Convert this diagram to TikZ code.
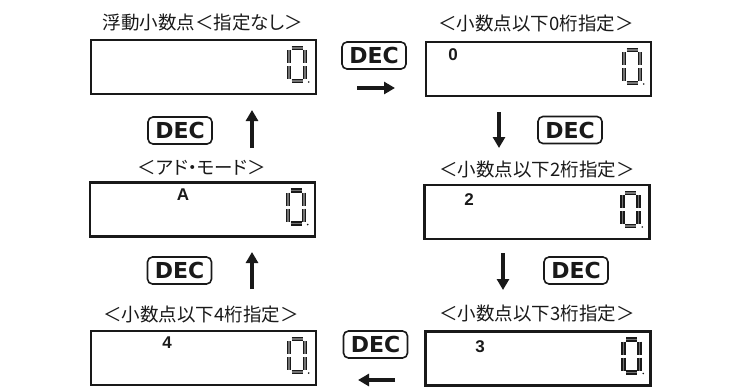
\documentclass[tikz,border=0pt]{standalone}
\usepackage{fontspec}
\setmainfont{Liberation Sans}
\newfontfamily\jpfont[RawFeature=+palt]{Noto Sans CJK JP}
\newfontfamily\keyfont{DejaVu Sans}
\usetikzlibrary{arrows.meta}

\begin{document}
\begin{tikzpicture}[x=1pt,y=-1pt,
  lcd/.style={draw=black!90, line width=2.3pt, minimum width=225pt, minimum height=54pt},
  deckey/.style={draw=black!90, line width=1.6pt, rounded corners=5pt, minimum width=64pt, minimum height=27pt, font=\keyfont\fontsize{22}{22}\selectfont\bfseries, text=black!90},
  modetitle/.style={font=\jpfont\fontsize{18.5}{18.5}\selectfont, text=black!90},
  dispflag/.style={font=\fontsize{17}{17}\selectfont\bfseries, text=black!90},
  flow/.style={draw=black!90, line width=4.6pt, -{Triangle[length=11pt,width=12pt]}},
  seg/.style={draw=black!90, line width=1.4pt, double=black!55, double distance=1.6pt},
  segzero/.pic={
    \draw [seg] (-5.5,-16.5) -- (5.5,-16.5);
    \draw [seg] (-5.5,16.5) -- (5.5,16.5);
    \draw [seg] (-8,-14.5) -- (-8,-1.5);
    \draw [seg] (-8,1.5) -- (-8,14.5);
    \draw [seg] (8,-14.5) -- (8,-1.5);
    \draw [seg] (8,1.5) -- (8,14.5);
    \fill [black!90] (11.5,17.5) circle (0.9);
  }]
\tikzstyle{every node}+=[inner sep=0pt]
\useasboundingbox (0,0) rectangle (754,389);
\node [lcd] (b0) at (203.5,67) {};
\node [lcd] (b1) at (538.5,69) {};
\node [lcd] (b2) at (537,212) {};
\node [lcd] (b3) at (538,358.5) {};
\node [lcd] (b4) at (203.5,358) {};
\node [lcd] (bA) at (202.5,209.5) {};
\foreach \bx in {b0,b1,b2,b3,b4,bA}
  \pic at ([xshift=-20pt,yshift=2.5pt]\bx.east) {segzero};
\node [modetitle] (t0) at (203,23) {浮動小数点＜指定なし＞};
\node [modetitle] (t1) at (536,24) {＜小数点以下0桁指定＞};
\node [modetitle] (t2) at (537,170) {＜小数点以下2桁指定＞};
\node [modetitle] (t3) at (537,313) {＜小数点以下3桁指定＞};
\node [modetitle] (t4) at (201,314) {＜小数点以下4桁指定＞};
\node [modetitle] (tA) at (202,168) {＜アド・モード＞};
\node [dispflag] (l1) at (453,55) {0};
\node [dispflag] (l2) at (469,200) {2};
\node [dispflag] (l3) at (480,347) {3};
\node [dispflag] (l4) at (167,343) {4};
\node [dispflag] (lA) at (183,195) {A};
\node [deckey] (d01) at (374,55.5) {DEC};
\node [deckey] (d12) at (570,130) {DEC};
\node [deckey] (d23) at (576,270.5) {DEC};
\node [deckey] (d34) at (375.5,344.5) {DEC};
\node [deckey] (d4A) at (179.5,270.5) {DEC};
\node [deckey] (dA0) at (180,130.5) {DEC};
\coordinate (a01s) at (357,88);
\coordinate (a01e) at (395,88);
\coordinate (a12s) at (499,112);
\coordinate (a12e) at (499,148);
\coordinate (a23s) at (503,253);
\coordinate (a23e) at (503,290);
\coordinate (a34s) at (395,380);
\coordinate (a34e) at (358,380);
\coordinate (a4As) at (252,289);
\coordinate (a4Ae) at (252,252);
\coordinate (aA0s) at (252,148);
\coordinate (aA0e) at (252,110);
\draw [flow] (a01s) -- (a01e);
\draw [flow] (a12s) -- (a12e);
\draw [flow] (a23s) -- (a23e);
\draw [flow] (a34s) -- (a34e);
\draw [flow] (a4As) -- (a4Ae);
\draw [flow] (aA0s) -- (aA0e);
\end{tikzpicture}
\end{document}
